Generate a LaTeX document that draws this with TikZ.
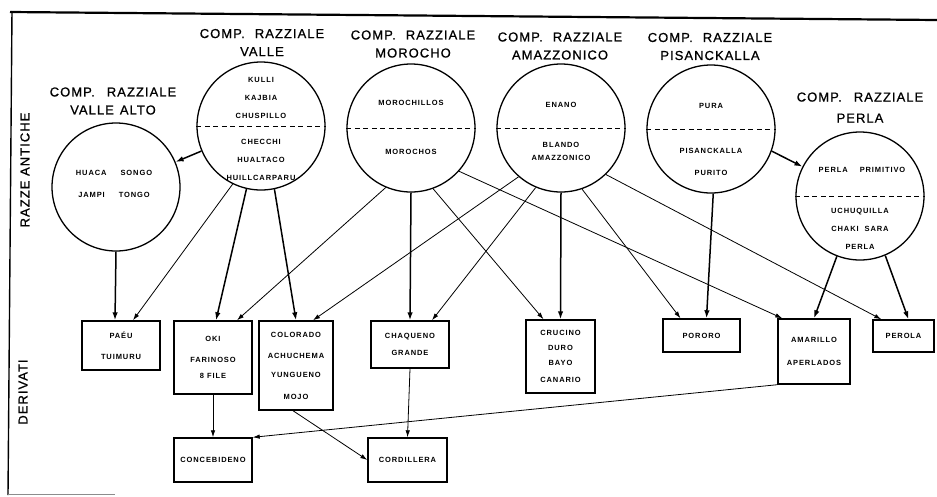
\documentclass[tikz,border=0pt]{standalone}
\usepackage{fontspec}
\setmainfont{Liberation Sans}
\usetikzlibrary{arrows.meta}
\newfontfamily\titlefont[LetterSpace=8, FakeBold=0.8]{Liberation Sans}
\newfontfamily\labfont[LetterSpace=12]{Liberation Sans Bold}

\begin{document}
\begin{tikzpicture}[x=1pt, y=-1pt,
    razza/.style={draw, circle, line width=1.3pt, minimum size=128pt, inner sep=0pt},
    deriv/.style={draw, line width=1.4pt, inner sep=0pt, align=center,
                  font=\labfont\fontsize{7.5}{15}\selectfont},
    lab/.style={align=center, inner sep=0pt, font=\labfont\fontsize{7.5}{18}\selectfont},
    title/.style={align=center, inner sep=0pt, font=\titlefont\fontsize{13}{18}\selectfont},
    side/.style={rotate=90, inner sep=0pt, font=\titlefont\fontsize{13}{15}\selectfont},
    divide/.style={dash pattern=on 5pt off 3.5pt, line width=0.9pt},
    heavy/.style={-{Latex[length=8pt, width=5.5pt]}, line width=1.5pt},
    light/.style={-{Latex[length=7pt, width=4.5pt]}, line width=0.8pt}]
  \useasboundingbox (0,0) rectangle (937,496);
  % frame of the plate
  \draw[line width=2.2pt] (10,12) -- (937,20);
  \draw[line width=1.4pt] (12,11) -- (8,495);
  \draw[line width=0.8pt, black!45] (8,494) -- (115,494);
  \node[side] (anti) at (25,170) {RAZZE ANTICHE};
  \node[side] (deri) at (23,392) {DERIVATI};

  % racial complexes
  \node[razza] (valto) at (116,187) {};
  \node[razza] (valle) at (261,126) {};
  \node[razza] (moro) at (411,128) {};
  \node[razza] (amaz) at (561,128) {};
  \node[razza] (pisa) at (711,129) {};
  \node[razza] (perla) at (860,196) {};
  \draw[divide] (valle.west) -- (valle.east);
  \draw[divide] (moro.west) -- (moro.east);
  \draw[divide] (amaz.west) -- (amaz.east);
  \draw[divide] (pisa.west) -- (pisa.east);
  \draw[divide] (perla.west) -- (perla.east);

  \node[title] (t-valto) at (113,101) {COMP.\hspace{12pt}RAZZIALE\\VALLE\hspace{6pt}ALTO};
  \node[title] (t-valle) at (262,42.5) {COMP.\hspace{10pt}RAZZIALE\\VALLE};
  \node[title] (t-moro) at (413,44) {COMP.\hspace{10pt}RAZZIALE\\MOROCHO};
  \node[title] (t-amaz) at (560,46) {COMP.\hspace{10pt}RAZZIALE\\AMAZZONICO};
  \node[title] (t-pisa) at (710,46.5) {COMP.\hspace{10pt}RAZZIALE\\PISANCKALLA};
  \node[title, font=\titlefont\fontsize{13}{21}\selectfont] (t-perla) at (860,107.5)
    {COMP.\hspace{12pt}RAZZIALE\\PERLA};

  \node[lab] (valto-l) at (114,184) {HUACA\hspace{14pt}SONGO\\[4pt]JAMPI\hspace{14pt}TONGO};
  \node[lab] (valle-a) at (261,98) {KULLI\\KAJBIA\\CHUSPILLO};
  \node[lab] (valle-b) at (261,159.5) {CHECCHI\\HUALTACO\\HUILLCARPARU};
  \node[lab] (moro-a) at (411,103) {MOROCHILLOS};
  \node[lab] (moro-b) at (411,152) {MOROCHOS};
  \node[lab] (amaz-a) at (561,105) {ENANO};
  \node[lab] (amaz-b) at (561,151.5) {BLANDO\\[-5pt]AMAZZONICO};
  \node[lab] (pisa-a) at (711,106) {PURA};
  \node[lab] (pisa-b) at (711,162) {PISANCKALLA\\[4pt]PURITO};
  \node[lab] (perla-a) at (862,170) {PERLA\hspace{12pt}PRIMITIVO};
  \node[lab] (perla-b) at (860,229) {UCHUQUILLA\\CHAKI\hspace{6pt}SARA\\PERLA};

  % derived races
  \node[deriv, minimum width=78pt, minimum height=49pt] (paeu) at (121,345.5) {PAÉU\\[6pt]TUIMURU};
  \node[deriv, minimum width=78pt, minimum height=73pt] (oki) at (213,357.5) {OKI\\[6pt]FARINOSO\\[1pt]8 FILE};
  \node[deriv, minimum width=74pt, minimum height=89pt] (colo) at (296,365.5)
    {COLORADO\\[6pt]ACHUCHEMA\\[4pt]YUNGUENO\\[7pt]MOJO};
  \node[deriv, minimum width=78pt, minimum height=47pt] (chaq) at (410,344.5) {CHAQUENO\\[2pt]GRANDE};
  \node[deriv, minimum width=69pt, minimum height=73pt] (cruc) at (560.5,356.5) {CRUCINO\\DURO\\BAYO\\[2pt]CANARIO};
  \node[deriv, minimum width=77pt, minimum height=33pt] (poro) at (701.5,335.5) {PORORO};
  \node[deriv, minimum width=72pt, minimum height=65pt] (amar) at (814,351.5) {AMARILLO\\[8pt]APERLADOS};
  \node[deriv, minimum width=61pt, minimum height=32pt] (pero) at (903.5,336) {PEROLA};
  \node[deriv, minimum width=78pt, minimum height=44pt] (conc) at (213,460) {CONCEBIDENO};
  \node[deriv, minimum width=79pt, minimum height=44pt] (cord) at (407.5,460) {CORDILLERA};

  % descent
  \draw[heavy] (valto.south) -- ([xshift=-6pt]paeu.north);
  \draw[heavy] (valle) -- (valto);
  \draw[light] (valle.244) -- ([xshift=12pt]paeu.north);
  \draw[heavy] (valle.257) -- ([xshift=3pt]oki.north);
  \draw[heavy] (valle.282) -- (colo.north);
  \draw[light] (moro.247) -- ([xshift=24pt]oki.north);
  \draw[heavy] (moro.south) -- (chaq.north);
  \draw[light] (moro.290) -- ([xshift=-17pt]cruc.north);
  \draw[light] (moro.318) -- ([xshift=5pt]amar.north west);
  \draw[light] (amaz.229) -- ([xshift=17pt]colo.north);
  \draw[light] (amaz.247) -- ([xshift=22pt]chaq.north);
  \draw[heavy] (amaz.south) -- (cruc.north);
  \draw[light] (amaz.289) -- ([xshift=-21pt]poro.north);
  \draw[light] (amaz.314) -- ([xshift=9pt]pero.north west);
  \draw[heavy] (pisa.272) -- ([xshift=5pt]poro.north);
  \draw[heavy] (pisa.340) -- (perla.153);
  \draw[heavy] (perla.249) -- (amar.north);
  \draw[heavy] (perla.293) -- ([xshift=5pt]pero.north);
  \draw[light] (oki.south) -- (conc.north);
  \draw[light] ([xshift=-3pt]colo.south) -- (cord.west);
  \draw[light] (chaq.south) -- (cord.north);
  \draw[light] (amar.south west) -- (conc.north east);
\end{tikzpicture}
\end{document}
